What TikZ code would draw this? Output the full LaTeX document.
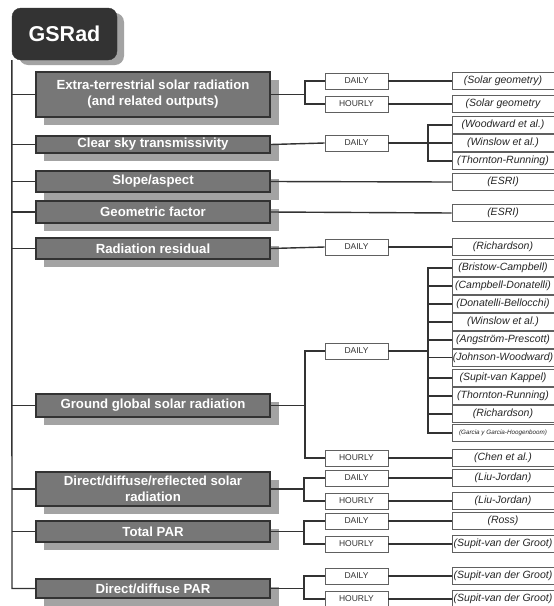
\documentclass[tikz,border=0pt]{standalone}
\usepackage{fontspec}
\setmainfont{Liberation Sans}
\usetikzlibrary{calc}
\definecolor{lin}{HTML}{333333}
\definecolor{boxfill}{HTML}{777777}
\definecolor{shadowc}{HTML}{A3A3A3}
\definecolor{gsfill}{HTML}{333333}
\definecolor{thin}{HTML}{606060}
\newcommand{\mainnode}[4]{%
  \node[shadowbox, minimum height=#3] (s#1) at ($(#2)+(8,8)$) {};
  \node[mainbox, minimum height=#3] (#1) at (#2) {#4};}
\begin{document}
\begin{tikzpicture}[x=1pt,y=-1pt,
  conn/.style={draw=lin, line width=1.4pt},
  shadowbox/.style={fill=shadowc, draw=none, minimum width=235pt, inner sep=0pt},
  gsshadow/.style={fill=shadowc, draw=none, rounded corners=9pt, minimum width=105pt, minimum height=52pt},
  gsbox/.style={draw=lin, fill=gsfill, rounded corners=9pt, minimum width=105pt, minimum height=52pt,
    text=white, font=\fontsize{21.5}{24}\selectfont\bfseries},
  mainbox/.style={draw=lin, line width=1.3pt, fill=boxfill, minimum width=234pt, inner sep=1pt,
    text=white, font=\fontsize{13.2}{16}\selectfont\bfseries, align=center},
  midbox/.style={draw=thin, line width=0.8pt, fill=white, minimum width=63pt, minimum height=16pt,
    inner sep=0pt, text=black!80, font=\fontsize{8.5}{9}\selectfont},
  refbox/.style={draw=thin, line width=0.8pt, fill=white, minimum width=102pt, minimum height=17pt,
    inner sep=0pt, text=black!85, font=\fontsize{10.5}{11}\selectfont\itshape},
]
\useasboundingbox (0,0) rectangle (554,606);

% root
\node[gsshadow] (sgs) at (71.5,39) {};
\node[gsbox] (gs) at (64.5,34) {GSRad};

% main boxes
\mainnode{m1}{153,94.5}{45pt}{Extra-terrestrial solar radiation\\(and related outputs)}
\mainnode{m2}{153,144.5}{17pt}{Clear sky transmissivity}
\mainnode{m3}{153,181.5}{21pt}{Slope/aspect}
\mainnode{m4}{153,212}{22pt}{Geometric factor}
\mainnode{m5}{153,248.5}{21pt}{Radiation residual}
\mainnode{m6}{153,405.5}{23pt}{Ground global solar radiation}
\mainnode{m7}{153,489}{34pt}{Direct/diffuse/reflected solar\\radiation}
\mainnode{m8}{153,531.5}{21pt}{Total PAR}
\mainnode{m9}{153,588.5}{19pt}{Direct/diffuse PAR}

% middle boxes
\node[midbox] (d1) at (356.5,81) {DAILY};
\node[midbox] (h1) at (356.5,104) {HOURLY};
\node[midbox] (d2) at (356.5,143) {DAILY};
\node[midbox] (d5) at (356.5,247) {DAILY};
\node[midbox] (d6) at (356.5,351) {DAILY};
\node[midbox] (h6) at (356.5,458) {HOURLY};
\node[midbox] (d7) at (356.5,478) {DAILY};
\node[midbox] (h7) at (356.5,501) {HOURLY};
\node[midbox] (d8) at (356.5,521) {DAILY};
\node[midbox] (h8) at (356.5,544) {HOURLY};
\node[midbox] (d9) at (356.5,576) {DAILY};
\node[midbox] (h9) at (356.5,599) {HOURLY};

% reference boxes
\node[refbox] (r1) at (503,81) {(Solar geometry)};
\node[refbox] (r2) at (503,104) {(Solar geometry};
\node[refbox] (r3) at (503,125) {(Woodward et al.)};
\node[refbox] (r4) at (503,143) {(Winslow et al.)};
\node[refbox] (r5) at (503,161) {(Thornton-Running)};
\node[refbox] (r6) at (503,182) {(ESRI)};
\node[refbox] (r7) at (503,213) {(ESRI)};
\node[refbox] (r8) at (503,247) {(Richardson)};
\node[refbox] (r9) at (503,268) {(Bristow-Campbell)};
\node[refbox] (r10) at (503,286) {(Campbell-Donatelli)};
\node[refbox] (r11) at (503,304) {(Donatelli-Bellocchi)};
\node[refbox] (r12) at (503,322) {(Winslow et al.)};
\node[refbox] (r13) at (503,340) {(Angström-Prescott)};
\node[refbox] (r14) at (503,357.5) {(Johnson-Woodward)};
\node[refbox] (r15) at (503,378) {(Supit-van Kappel)};
\node[refbox] (r16) at (503,396) {(Thornton-Running)};
\node[refbox] (r17) at (503,414) {(Richardson)};
\node[refbox, font=\fontsize{6.3}{7}\selectfont\itshape] (r18) at (503,433) {(Garcia y Garcia-Hoogenboom)};
\node[refbox] (r19) at (503,458) {(Chen et al.)};
\node[refbox] (r20) at (503,478) {(Liu-Jordan)};
\node[refbox] (r21) at (503,501) {(Liu-Jordan)};
\node[refbox] (r22) at (503,521) {(Ross)};
\node[refbox] (r23) at (503,544) {(Supit-van der Groot)};
\node[refbox] (r24) at (503,576) {(Supit-van der Groot)};
\node[refbox] (r25) at (503,599) {(Supit-van der Groot)};

% trunk
\coordinate (tb) at (12,588.5);
\draw[conn] (gs.south west) -- (tb) -- (m9.west);
\foreach \m in {m1,m2,m3,m4,m5,m6,m7,m8}
  \draw[conn] (gs.south west |- \m.west) -- (\m.west);

% forks
\coordinate (f1) at (305,94.5);
\coordinate (g2) at (428,143);
\coordinate (f6) at (305,405.5);
\coordinate (g6) at (428,351);
\coordinate (f7) at (304,489);
\coordinate (f8) at (304,531.5);
\coordinate (f9) at (304,588.5);

% branch 1
\draw[conn] (m1.east) -- (f1);
\draw[conn] (d1.west) -| (f1) |- (h1.west);
\draw[conn] (d1.east) -- (r1.west);
\draw[conn] (h1.east) -- (r2.west);
% branch 2
\draw[conn] (m2.east) -- (d2.west);
\draw[conn] (d2.east) -- (r4.west);
\draw[conn] (r3.west) -| (g2) |- (r5.west);
% branch 3,4
\draw[conn] (m3.east) -- (r6.west);
\draw[conn] (m4.east) -- (r7.west);
% branch 5
\draw[conn] (m5.east) -- (d5.west);
\draw[conn] (d5.east) -- (r8.west);
% branch 6
\draw[conn] (m6.east) -- (f6);
\draw[conn] (d6.west) -| (f6) |- (h6.west);
\draw[conn] (h6.east) -- (r19.west);
\draw[conn] (d6.east) -- (g6);
\draw[conn] (r9.west) -| (g6) |- (r18.west);
\foreach \r in {r10,r11,r12,r13,r14,r15,r16,r17}
  \draw[conn] (g6 |- \r.west) -- (\r.west);
% branch 7
\draw[conn] (m7.east) -- (f7);
\draw[conn] (d7.west) -| (f7) |- (h7.west);
\draw[conn] (d7.east) -- (r20.west);
\draw[conn] (h7.east) -- (r21.west);
% branch 8
\draw[conn] (m8.east) -- (f8);
\draw[conn] (d8.west) -| (f8) |- (h8.west);
\draw[conn] (d8.east) -- (r22.west);
\draw[conn] (h8.east) -- (r23.west);
% branch 9
\draw[conn] (m9.east) -- (f9);
\draw[conn] (d9.west) -| (f9) |- (h9.west);
\draw[conn] (d9.east) -- (r24.west);
\draw[conn] (h9.east) -- (r25.west);
\end{tikzpicture}
\end{document}
